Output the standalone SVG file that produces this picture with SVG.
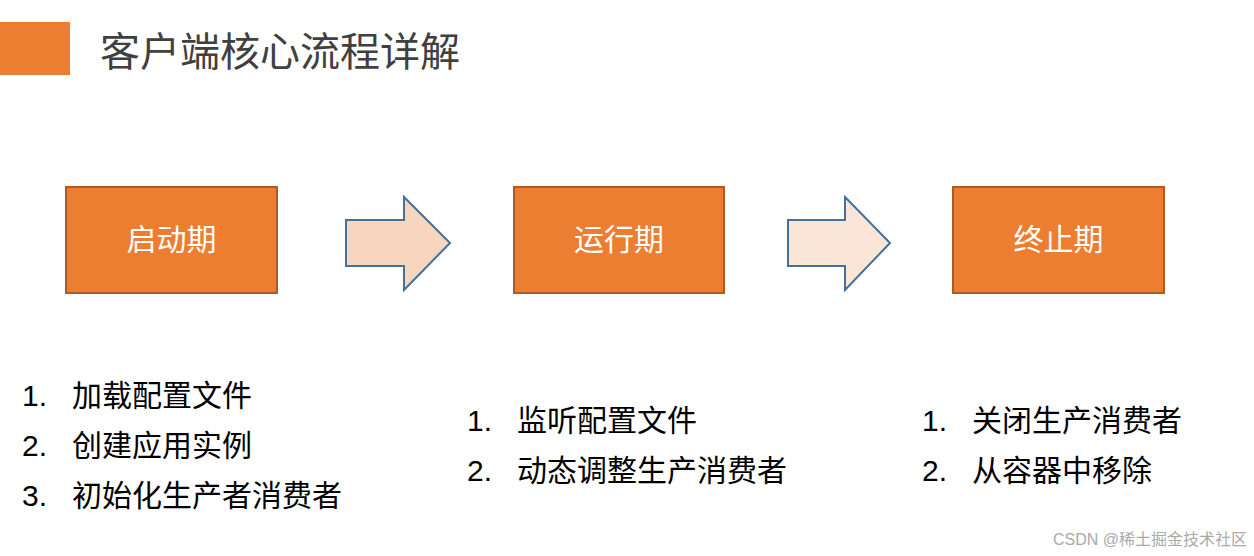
<svg xmlns="http://www.w3.org/2000/svg" width="1254" height="556" viewBox="0 0 1254 556">
<style>
.box{fill:#ED7D31;stroke:#AE5A21;stroke-width:2}
.bt{font-family:"Noto Sans CJK SC",sans-serif;font-size:30px;fill:#fff;text-anchor:middle}
.li{font-family:"Liberation Sans","Noto Sans CJK SC",sans-serif;font-size:30px;fill:#000}
.ar{stroke:#41719C;stroke-width:2}
</style>
<rect width="1254" height="556" fill="#fff"/>
<g id="title">
<rect x="0" y="22" width="70" height="53" fill="#ED7D31"/>
<text x="100" y="66" font-family="Noto Sans CJK SC,sans-serif" font-size="40" fill="#404040">客户端核心流程详解</text>
</g>
<g id="n1"><rect class="box" x="66" y="187" width="211" height="106"/><text class="bt" x="171.5" y="250">启动期</text></g>
<g id="n2"><rect class="box" x="514" y="187" width="210" height="106"/><text class="bt" x="619" y="250">运行期</text></g>
<g id="n3"><rect class="box" x="953" y="187" width="211" height="106"/><text class="bt" x="1058.5" y="250">终止期</text></g>
<g id="connectors">
<polygon class="ar" fill="#F8D5BD" points="346,220 404,220 404,197 450,243 404,290 404,266 346,266"/>
<polygon class="ar" fill="#FBE5D6" points="788,220 845,220 845,197 890,243 845,290 845,266 788,266"/>
</g>
<g id="list1" class="li">
<text x="22" y="406">1.</text><text x="72" y="406">加载配置文件</text>
<text x="22" y="456">2.</text><text x="72" y="456">创建应用实例</text>
<text x="22" y="506">3.</text><text x="72" y="506">初始化生产者消费者</text>
</g>
<g id="list2" class="li">
<text x="467" y="431">1.</text><text x="517" y="431">监听配置文件</text>
<text x="467" y="481">2.</text><text x="517" y="481">动态调整生产消费者</text>
</g>
<g id="list3" class="li">
<text x="922" y="431">1.</text><text x="972" y="431">关闭生产消费者</text>
<text x="922" y="481">2.</text><text x="972" y="481">从容器中移除</text>
</g>
<text x="1053" y="545" font-family="Liberation Sans,Noto Sans CJK SC,sans-serif" font-size="16" fill="#aaa">CSDN @稀土掘金技术社区</text>
</svg>
